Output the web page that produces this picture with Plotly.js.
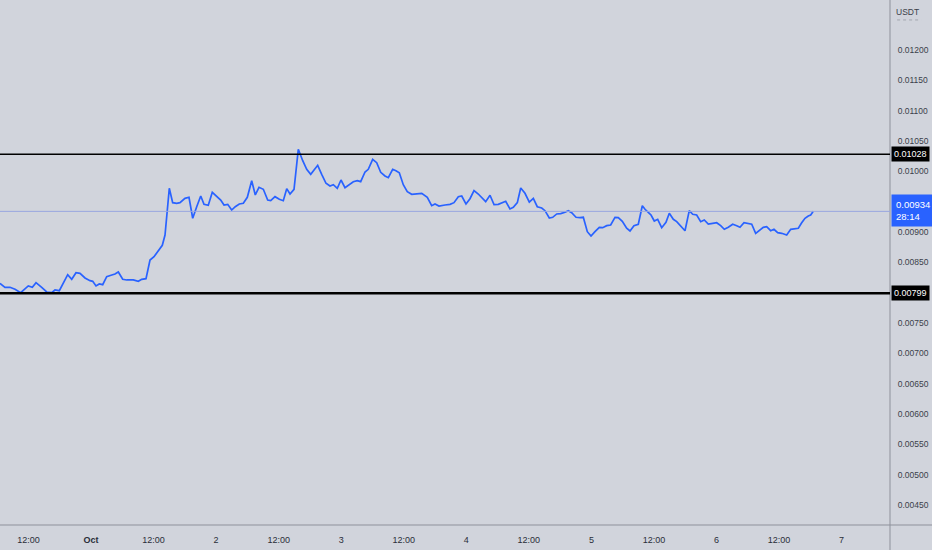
<!DOCTYPE html>
<html>
<head>
<meta charset="utf-8">
<script src="https://cdn.plot.ly/plotly-3.0.1.min.js"></script>
<style>
  html, body { margin: 0; padding: 0; background: #d1d4dc; }
  #chart { width: 932px; height: 550px; }
</style>
</head>
<body>
<div id="chart"></div>
<script>
// Hours relative to 1 Oct 00:00
const hours = [-17.46,-16.50,-15.54,-14.58,-13.49,-12.03,-11.26,-10.55,-9.46,-8.50,-7.54,-6.91,-6.08,-4.99,-4.47,-3.70,-2.88,-2.11,-1.15,-0.19,0.33,0.96,1.59,2.24,3.01,3.84,4.60,5.24,6.08,6.85,8.12,9.07,9.73,10.55,11.32,12.09,12.91,13.68,14.20,14.52,15.02,15.67,16.44,17.07,18.03,18.80,19.51,20.28,21.05,21.68,22.50,23.27,24.12,24.88,25.52,26.23,26.99,27.68,28.45,29.22,29.99,30.83,31.52,32.23,33.06,33.90,34.48,35.30,36.13,36.89,37.55,38.18,
38.95,39.77,40.62,41.38,42.15,42.84,43.49,44.26,45.08,45.85,46.49,47.25,47.96,48.73,49.56,50.32,51.09,51.74,52.57,53.20,54.04,54.81,55.58,56.40,57.04,57.88,58.51,59.15,59.91,60.68,61.53,62.49,63.45,64.52,65.36,66.00,66.76,67.92,68.88,69.64,70.47,71.12,71.94,72.71,73.48,74.30,75.07,75.72,76.55,77.32,78.14,78.79,79.56,80.38,81.02,81.79,82.44,83.26,84.09,84.86,85.62,86.47,87.10,87.93,88.58,89.35,90.11,90.94,91.57,
92.22,93.05,93.82,94.45,95.22,95.93,96.69,97.52,98.17,98.94,99.70,100.53,101.16,101.93,102.77,103.41,104.17,105.00,105.77,106.29,107.11,107.44,108.07,108.72,109.49,110.31,110.95,111.72,112.37,113.14,113.96,114.78,115.44,116.20,116.97,117.66,118.43,119.27,120.04,120.81,121.50,122.27,123.11,123.88,124.51,125.28,126.10,126.76,127.52,128.21,128.98,129.63,130.40,131.03,131.74,132.51,133.47,134.24,135.06,135.70,136.35,136.98,137.61,138.07,138.57];

const prices = [0.008154,0.008088,0.008088,0.008055,0.007999,0.008110,0.008088,0.008164,0.008088,0.008011,0.007999,0.008044,0.008032,0.008209,0.008296,0.008220,0.008329,0.008319,0.008242,0.008197,0.008187,0.008110,0.008143,0.008131,0.008263,0.008286,0.008308,0.008341,0.008220,0.008209,0.008209,0.008187,0.008220,0.008230,0.008538,0.008593,0.008682,0.008781,0.008950,0.009252,0.009720,0.009483,0.009473,0.009483,0.009555,0.009572,0.009226,0.009417,0.009593,0.009456,0.009440,0.009654,0.009593,0.009527,0.009445,0.009456,0.009362,0.009417,0.009461,0.009473,0.009572,0.009845,0.009610,0.009737,0.009704,0.009527,0.009516,0.009582,0.009539,0.009516,0.009714,0.009626,
0.009704,0.010363,0.010175,0.010033,0.009951,0.010022,0.010099,0.009951,0.009803,0.009758,0.009779,0.009720,0.009857,0.009730,0.009786,0.009829,0.009845,0.009829,0.009989,0.010033,0.010198,0.010142,0.009984,0.009923,0.009895,0.010033,0.010010,0.009977,0.009779,0.009664,0.009621,0.009631,0.009638,0.009572,0.009433,0.009461,0.009428,0.009445,0.009456,0.009483,0.009582,0.009593,0.009461,0.009549,0.009681,0.009626,0.009555,0.009500,0.009605,0.009450,0.009456,0.009483,0.009506,0.009379,0.009407,0.009483,0.009725,0.009638,0.009494,0.009555,0.009417,0.009395,0.009351,0.009231,0.009242,0.009297,0.009302,0.009325,0.009351,
0.009318,0.009242,0.009236,0.009242,0.009005,0.008934,0.009005,0.009077,0.009071,0.009104,0.009115,0.009242,0.009236,0.009176,0.009061,0.009016,0.009104,0.009127,0.009433,0.009374,0.009308,0.009280,0.009181,0.009209,0.009071,0.009160,0.009308,0.009209,0.009170,0.009104,0.009021,0.009351,0.009292,0.009280,0.009170,0.009198,0.009132,0.009143,0.009153,0.009104,0.009044,0.009077,0.009127,0.009104,0.009077,0.009153,0.009143,0.009127,0.008978,0.009021,0.009077,0.009087,0.009021,0.009044,0.008988,0.008978,0.008950,0.009044,0.009049,0.009061,0.009153,0.009226,0.009264,0.009280,0.009340];

const tickHours = [-12, 0, 12, 24, 36, 48, 60, 72, 84, 96, 108, 120, 132, 144];
const tickLabels = ['12:00', '<b>Oct</b>', '12:00', '2', '12:00', '3', '12:00', '4', '12:00', '5', '12:00', '6', '12:00', '7'];
const yTickVals = [0.0045,0.005,0.0055,0.006,0.0065,0.007,0.0075,0.0085,0.009,0.0095,0.010,0.0105,0.011,0.0115,0.012];

const resistance = 0.01028;
const support = 0.00799;
const lastPrice = 0.00934;
const countdown = '28:14';
const xRangeHours = [-17.46, 153.29];
const yRange = [0.00417, 0.012824];

const base = Date.UTC(2023, 9, 1, 0, 0, 0);
function toDate(h) {
  const d = new Date(base + h * 3600000);
  return d.toISOString().slice(0, 19).replace('T', ' ');
}

const n = Math.min(hours.length, prices.length);
const xs = [], ys = [];
for (let i = 0; i < n; i++) { xs.push(toDate(hours[i])); ys.push(prices[i]); }

const FONT = '"Liberation Sans", Arial, sans-serif';
const BG = '#d1d4dc';
const AXIS = '#8e919b';

const trace = {
  x: xs, y: ys, type: 'scatter', mode: 'lines',
  line: { color: '#2962ff', width: 1.7 },
  hoverinfo: 'skip'
};

const layout = {
  width: 932, height: 550,
  margin: { l: 0, r: 42, t: 0, b: 25, pad: 0 },
  paper_bgcolor: BG, plot_bgcolor: BG,
  showlegend: false,
  font: { family: FONT, size: 9, color: '#2a2e39' },
  xaxis: {
    type: 'date',
    range: [toDate(xRangeHours[0]), toDate(xRangeHours[1])],
    tickmode: 'array',
    tickvals: tickHours.map(toDate),
    ticktext: tickLabels,
    showgrid: false, zeroline: false,
    showline: false,
    ticks: 'outside', ticklen: 6, tickcolor: BG,
    tickfont: { family: FONT, size: 9, color: '#2a2e39' },
    fixedrange: true
  },
  yaxis: {
    side: 'right',
    range: yRange,
    tickmode: 'array',
    tickvals: yTickVals,
    tickformat: '.5f',
    showgrid: false, zeroline: false, showline: false,
    ticks: 'outside', ticklen: 5, tickcolor: BG,
    tickfont: { family: FONT, size: 8.5, color: '#3b3f4a' },
    fixedrange: true
  },
  shapes: [
    // right axis border
    { type: 'line', xref: 'paper', yref: 'paper', x0: 1, x1: 1, y0: -0.06, y1: 1,
      line: { color: AXIS, width: 1 } },
    // bottom axis border
    { type: 'line', xref: 'paper', yref: 'paper', x0: 0, x1: 1.06, y0: 0, y1: 0,
      line: { color: AXIS, width: 1 } },
    // last price line
    { type: 'line', xref: 'paper', yref: 'y', x0: 0, x1: 1, y0: lastPrice, y1: lastPrice,
      line: { color: '#98a6e0', width: 1 } },
    // resistance
    { type: 'line', xref: 'paper', yref: 'y', x0: 0, x1: 1, y0: resistance, y1: resistance,
      line: { color: '#000000', width: 1.5 } },
    // support
    { type: 'line', xref: 'paper', yref: 'y', x0: 0, x1: 1, y0: support, y1: support,
      line: { color: '#000000', width: 2.5 } },
    // dotted under USDT
    { type: 'line', xref: 'paper', yref: 'paper', x0: 1.008, x1: 1.035, y0: 0.962, y1: 0.962,
      line: { color: '#a3a6af', width: 1, dash: 'dot' } }
  ],
  annotations: [
    { xref: 'paper', yref: 'paper', x: 1.004, y: 0.978, xanchor: 'left', yanchor: 'middle',
      text: 'USDT', showarrow: false, font: { family: FONT, size: 8.5, color: '#3b3f4a' } },
    { xref: 'paper', yref: 'y', x: 1.001, y: resistance, xanchor: 'left', yanchor: 'middle',
      text: resistance.toFixed(5), showarrow: false, bgcolor: '#000000', borderpad: 2,
      font: { family: FONT, size: 9, color: '#ffffff' } },
    { xref: 'paper', yref: 'y', x: 1.001, y: support, xanchor: 'left', yanchor: 'middle',
      text: support.toFixed(5), showarrow: false, bgcolor: '#000000', borderpad: 2,
      font: { family: FONT, size: 9, color: '#ffffff' } },
    { xref: 'paper', yref: 'y', x: 1.001, y: lastPrice, xanchor: 'left', yanchor: 'top',
      yshift: 17, align: 'left',
      text: lastPrice.toFixed(5) + '<br>' + countdown, showarrow: false, bgcolor: '#2962ff', borderpad: 4,
      font: { family: FONT, size: 9.5, color: '#ffffff' } }
  ]
};

Plotly.newPlot('chart', [trace], layout, { displayModeBar: false, staticPlot: true });
</script>
</body>
</html>
